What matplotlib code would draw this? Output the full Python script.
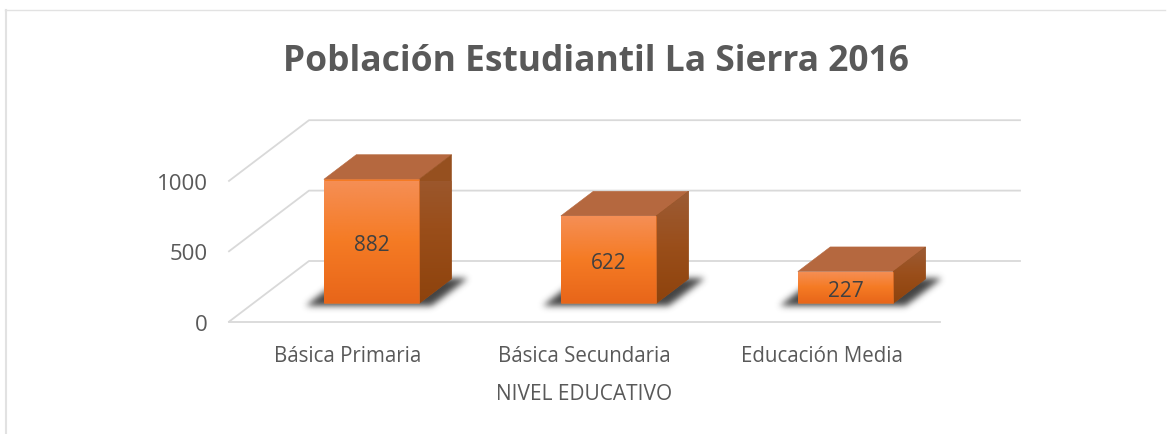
import matplotlib
matplotlib.use("Agg")
import matplotlib.pyplot as plt
import numpy as np
from matplotlib.colors import LinearSegmentedColormap
from matplotlib.lines import Line2D
from matplotlib.patches import Polygon

categories = ["Básica Primaria", "Básica Secundaria", "Educación Media"]
values = [882, 622, 227]
y_ticks = [0, 500, 1000]
title = "Población Estudiantil La Sierra 2016"
x_title = "NIVEL EDUCATIVO"

W, H = 1171, 435
plt.rcParams["font.family"] = ["Open Sans", "DejaVu Sans"]

# Size of the oblique depth axis, in data units
DEPTH_X = 80 / 237
DEPTH_Y = 60.7 / 0.1408
BAR_WIDTH = 0.402
NEAR, FAR = 0.30, 0.705

GRID = "#D9D9D9"
TEXT = "#595959"

front_cmap = LinearSegmentedColormap.from_list("front", ["#E8661A", "#F57B24", "#F58F56"])
side_cmap = LinearSegmentedColormap.from_list("side", ["#8E430D", "#9A4E1A", "#9C5C36"])


def project(x, value, depth):
    """Move a point back along the depth axis."""
    return x + depth * DEPTH_X, value + depth * DEPTH_Y


def blur(mask, sigma):
    """Gaussian blur along both directions of a 2d array."""
    r = int(sigma * 3)
    kernel = np.exp(-0.5 * (np.arange(-r, r + 1) / sigma) ** 2)
    kernel /= kernel.sum()
    mask = np.apply_along_axis(np.convolve, 0, mask, kernel, mode="same")
    return np.apply_along_axis(np.convolve, 1, mask, kernel, mode="same")


def draw_shadow(ax, x0, x1, base, dx, dy):
    """Blurred dark parallelogram lying on the floor under a bar."""
    left, right = x0 - 0.2, x1 + dx + 0.2
    low, high = base - 150, base + dy + 150
    nx = int((right - left) * 237)
    ny = int((high - low) * 0.1408)
    xs = np.linspace(left, right, nx)
    ys = np.linspace(high, low, ny)
    gx, gy = np.meshgrid(xs, ys)
    frac = (gy - base) / dy
    inside = (gy > base - 18) & (gy < base + dy + 8)
    inside &= gx > x0 - 0.065 + frac * dx
    inside &= gx < x1 + 0.065 + frac * dx
    alpha = blur(inside.astype(float), 3.2) * 0.92
    rgba = np.zeros((ny, nx, 4))
    rgba[..., :3] = 0.2
    rgba[..., 3] = alpha
    ax.imshow(rgba, extent=(left, right, low, high), aspect="auto", zorder=2, clip_on=False)


fig = plt.figure(figsize=(W / 100, H / 100), dpi=100, facecolor="white")
ax = fig.add_axes([229 / W, 1 - 322.7 / H, 711 / W, 140.8 / H])
ax.set_xlim(0, len(categories))
ax.set_ylim(0, 1000)
for spine in ax.spines.values():
    spine.set_visible(False)

# Chart frame, only left and top are visible
fig.add_artist(Line2D([6 / W, 6 / W], [0, 1 - 10.5 / H], color="#E2E2E2", lw=1.5))
fig.add_artist(Line2D([5.5 / W, 1 - 6 / W], [1 - 10.5 / H, 1 - 10.5 / H], color="#E2E2E2", lw=1))

# Walls and floor
n = len(categories)
for tick in y_ticks:
    xb, yb = project(0, tick, 1)
    xe, ye = project(n, tick, 1)
    ax.plot([0, xb, xe], [tick, yb, ye], color=GRID, lw=1.3, clip_on=False, zorder=1)
ax.plot([0, n], [0, 0], color=GRID, lw=1.3, clip_on=False, zorder=1)

for i, value in enumerate(values):
    x0 = i + 0.5 - BAR_WIDTH / 2 + NEAR * DEPTH_X
    x1 = x0 + BAR_WIDTH
    base = NEAR * DEPTH_Y
    top = base + value
    dx = (FAR - NEAR) * DEPTH_X
    dy = (FAR - NEAR) * DEPTH_Y

    draw_shadow(ax, x0, x1, base, dx, dy)

    # Top of the bar
    ax.add_patch(Polygon([(x0, top), (x1, top), (x1 + dx, top + dy), (x0 + dx, top + dy)],
                         closed=True, fc="#B5683F", ec="#B5683F", lw=0.4, clip_on=False, zorder=3))

    # Right side, vertical gradient clipped to the parallelogram
    side_pts = [(x1, base), (x1 + dx, base + dy), (x1 + dx, top + dy), (x1, top)]
    side = Polygon(side_pts, closed=True, fc="#96501F", ec="#96501F", lw=0.4, clip_on=False, zorder=3)
    ax.add_patch(side)
    side_img = ax.imshow(np.linspace(1, 0, 64).reshape(-1, 1), extent=(x1, x1 + dx, base, top + dy),
                         cmap=side_cmap, vmin=0, vmax=1, aspect="auto", zorder=3.1, clip_on=True)
    side_img.set_clip_path(side)

    # Front of the bar
    front = Polygon([(x0, base), (x1, base), (x1, top), (x0, top)], closed=True,
                    fc="#F57B24", ec="#E0702A", lw=0.4, clip_on=False, zorder=3.2)
    ax.add_patch(front)
    front_img = ax.imshow(np.linspace(1, 0, 64).reshape(-1, 1), extent=(x0, x1, base, top),
                          cmap=front_cmap, vmin=0, vmax=1, aspect="auto", zorder=3.3, clip_on=True)
    front_img.set_clip_path(front)

    ax.text((x0 + x1) / 2, base + value / 2 - 20, str(value), ha="center", va="center",
            fontsize=15, color="#404040", zorder=5, clip_on=False)

ax.set_xlim(0, n)
ax.set_ylim(0, 1000)
ax.set_xticks(np.arange(n) + 0.5, categories)
ax.set_yticks(y_ticks)
ax.tick_params(axis="x", length=0, pad=17, labelsize=14.8, labelcolor=TEXT)
ax.tick_params(axis="y", length=0, pad=15.5, labelsize=16, labelcolor=TEXT)
ax.set_xlabel(x_title, fontsize=15, color=TEXT, labelpad=12)

fig.text(596 / W, 1 - 62 / H, title, ha="center", va="center", fontsize=25.5,
         fontweight="bold", color=TEXT)

fig.savefig("out.png", dpi=100)
